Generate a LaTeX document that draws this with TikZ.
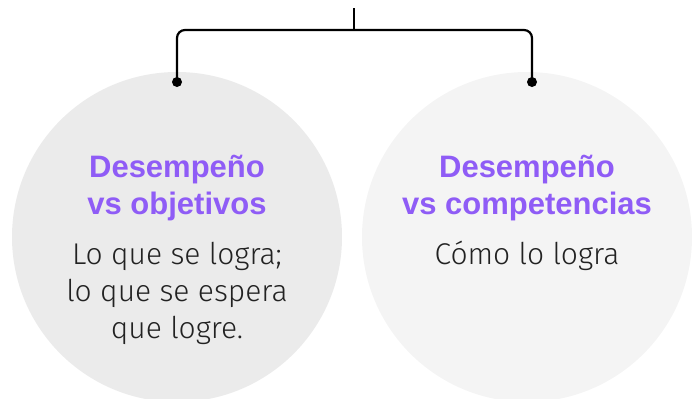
\documentclass[tikz,border=0pt]{standalone}
\usepackage{fontspec}
\setmainfont{Liberation Sans}
\newfontfamily\lightfont{Fira Sans Light}
\definecolor{purp}{HTML}{8F5CF6}
\definecolor{txt}{HTML}{222222}
\definecolor{circL}{HTML}{EBEBEB}
\definecolor{circR}{HTML}{F4F4F4}
\begin{document}
\begin{tikzpicture}[x=1pt,y=-1pt,
  bubble/.style={circle,minimum size=330pt,inner sep=0pt,draw=none},
  dotnode/.style={circle,fill=black,minimum size=10pt,inner sep=0pt},
  title/.style={anchor=base,inner sep=0pt,text=purp,font=\fontsize{31}{37}\selectfont\bfseries},
  body/.style={anchor=base,inner sep=0pt,text=txt,font=\fontsize{30}{37}\lightfont},
  conn/.style={line width=2.2pt,black}]
\useasboundingbox (0,0) rectangle (697,399);
\node[bubble,fill=circL] (cl) at (177,237) {};
\node[bubble,fill=circR] (cr) at (527,237) {};
\coordinate (top) at (354,8);
\coordinate (mid) at (354,30);
\node[dotnode] (dl) at (177,82) {};
\node[dotnode] (dr) at (532,82) {};
\draw[conn] (top) -- (mid);
\draw[conn,rounded corners=8pt] (dl.center) |- (mid) -| (dr.center);
\node[title] (t1a) at (177,177) {Desempeño};
\node[title] (t1b) at (177,214) {vs objetivos};
\node[body] (b1a) at (177,264) {Lo que se logra;};
\node[body] (b1b) at (177,301) {lo que se espera};
\node[body] (b1c) at (177,338) {que logre.};
\node[title] (t2a) at (527,177) {Desempeño};
\node[title] (t2b) at (527,214) {vs competencias};
\node[body] (b2a) at (527,264) {Cómo lo logra};
\end{tikzpicture}
\end{document}
